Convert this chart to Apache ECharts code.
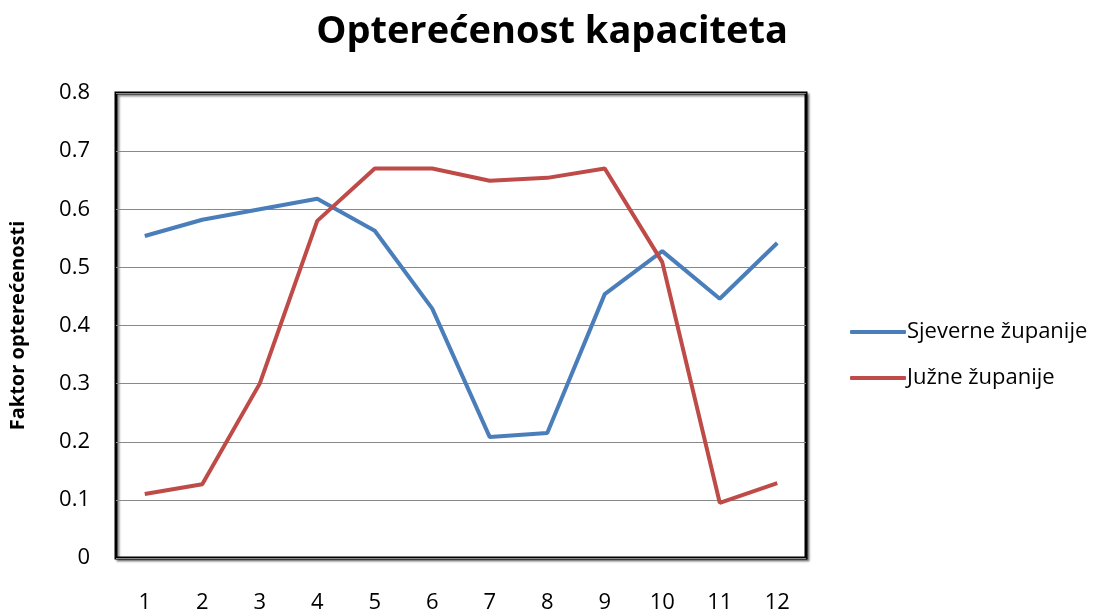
<!DOCTYPE html>
<html><head><meta charset="utf-8">
<script src="https://cdn.jsdelivr.net/npm/echarts@6/dist/echarts.min.js"></script>
<style>html,body{margin:0;padding:0;background:#fff}#c{width:1101px;height:614px}</style>
</head><body><div id="c"></div>
<script>
const categories = ['1','2','3','4','5','6','7','8','9','10','11','12'];
const sjeverne = [0.554, 0.582, 0.600, 0.618, 0.563, 0.429, 0.208, 0.215, 0.454, 0.528, 0.446, 0.542];
const juzne = [0.110, 0.127, 0.300, 0.580, 0.670, 0.670, 0.649, 0.654, 0.670, 0.509, 0.095, 0.129];
const seriesNames = ['Sjeverne županije', 'Južne županije'];
const font = 'Open Sans, Lato, sans-serif';
const chart = echarts.init(document.getElementById('c'));
chart.setOption({
  animation: false,
  title: {
    text: 'Opterećenost kapaciteta', left: 547, top: 8, textAlign: 'center',
    textStyle: {fontFamily: font, fontSize: 38, fontWeight: 'bold', color: '#000'}
  },
  legend: {
    orient: 'vertical', left: 845, top: 316, itemGap: 24, itemWidth: 56, itemHeight: 4,
    icon: 'roundRect',
    textStyle: {fontFamily: font, fontSize: 22, color: '#000', padding: [0,0,0,-4]},
    data: seriesNames
  },
  grid: {
    left: 116, top: 93, width: 690, height: 465, show: true,
    borderColor: '#000', borderWidth: 3, shadowColor: 'rgba(0,0,0,0.45)', shadowBlur: 2, shadowOffsetX: 2, shadowOffsetY: 2,
    backgroundColor: '#fff'
  },
  xAxis: {
    type: 'category', data: categories, boundaryGap: true,
    axisLine: {show: false}, axisTick: {show: false},
    axisLabel: {fontFamily: font, fontSize: 22, color: '#000', margin: 34}
  },
  yAxis: {
    type: 'value', min: 0, max: 0.8, interval: 0.1,
    name: 'Faktor opterećenosti', nameLocation: 'middle', nameGap: 88,
    nameTextStyle: {fontFamily: font, fontSize: 20, fontWeight: 'bold', color: '#000'},
    axisLine: {show: false}, axisTick: {show: false},
    axisLabel: {fontFamily: font, fontSize: 22, color: '#000', margin: 26,
      formatter: v => (Math.round(v*10)/10).toString()},
    splitLine: {lineStyle: {color: '#888', width: 1}}
  },
  series: [
    {name: seriesNames[0], type: 'line', data: sjeverne, symbol: 'none',
     lineStyle: {width: 4, color: '#4A7EBB'}, itemStyle: {color: '#4A7EBB'}},
    {name: seriesNames[1], type: 'line', data: juzne, symbol: 'none',
     lineStyle: {width: 4, color: '#BE4B48'}, itemStyle: {color: '#BE4B48'}}
  ]
});
</script></body></html>
